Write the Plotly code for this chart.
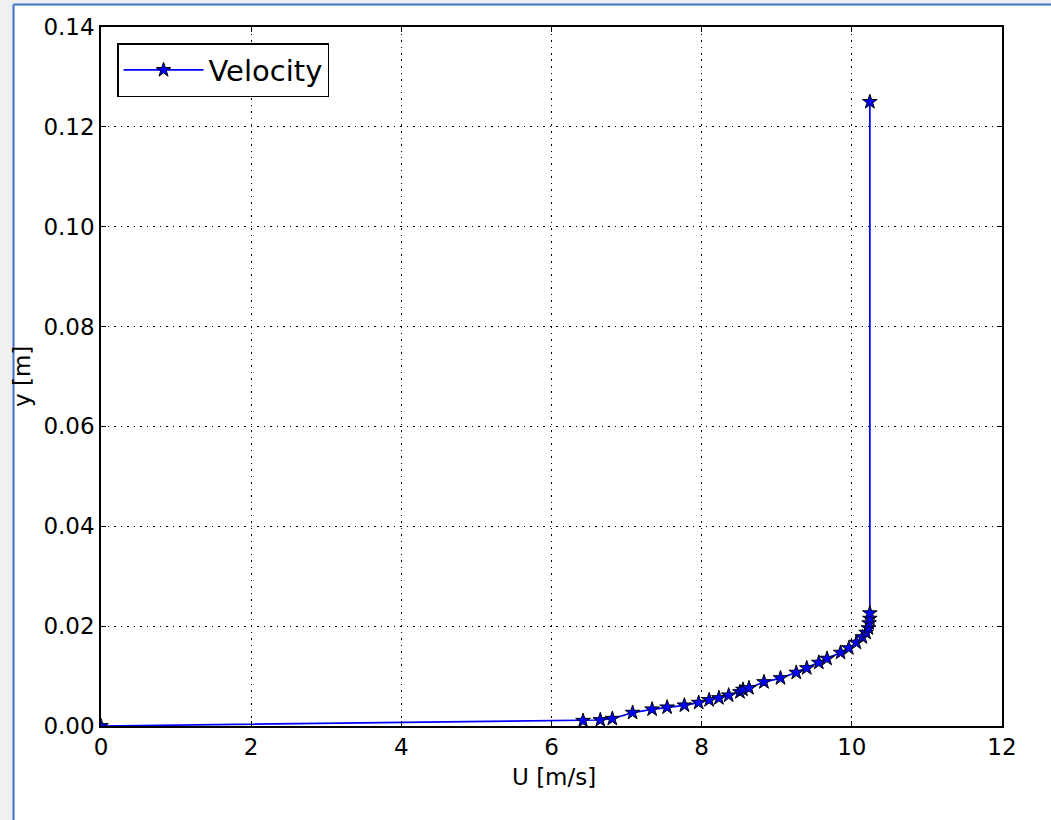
import plotly.graph_objects as go

U = [0.0, 6.42, 6.65, 6.81, 7.08, 7.34, 7.54, 7.77, 7.96, 8.10, 8.23, 8.36, 8.51,
     8.55, 8.63, 8.83, 9.05, 9.26, 9.40, 9.56, 9.67, 9.85, 9.96, 10.06, 10.14,
     10.19, 10.22, 10.23, 10.24, 10.24, 10.24]
Y = [0.0, 0.00106, 0.0012, 0.00146, 0.00267, 0.00334, 0.00374, 0.00414, 0.00467,
     0.0052, 0.0056, 0.00614, 0.0068, 0.0073, 0.0076, 0.0088, 0.0096, 0.0107,
     0.0116, 0.0127, 0.0135, 0.0147, 0.0156, 0.0167, 0.0178, 0.0187, 0.0196,
     0.0206, 0.0215, 0.0226, 0.125]

FONT = "DejaVu Sans"

fig = go.Figure()
fig.add_trace(go.Scatter(
    x=U, y=Y, mode="lines+markers", name="Velocity",
    line=dict(color="#0000ff", width=1.7),
    marker=dict(symbol="star", size=11, color="#0000ff", line=dict(color="black", width=1)),
))

axis_common = dict(
    showline=True, linecolor="black", linewidth=1.5, mirror="allticks",
    ticks="inside", ticklen=5, tickcolor="black", tickwidth=1,
    showgrid=True, gridcolor="black", griddash="1.5px,5px", gridwidth=1,
    zeroline=False, tickfont=dict(family=FONT, size=23, color="black"),
)

fig.update_xaxes(range=[0, 12], dtick=2, tick0=0, **axis_common)
fig.update_yaxes(range=[0, 0.14], dtick=0.02, tick0=0, tickformat=".2f", **axis_common)

fig.update_layout(
    width=1051, height=820,
    margin=dict(l=101, r=49, t=27, b=94),
    paper_bgcolor="white", plot_bgcolor="white",
    showlegend=True,
    legend=dict(x=0.0178, y=0.977, xanchor="left", yanchor="top",
                bordercolor="black", borderwidth=1.5, bgcolor="white",
                itemwidth=80,
                font=dict(family=FONT, size=29, color="black")),
    annotations=[
        dict(text="U [m/s]", xref="paper", yref="paper", x=(554 - 101) / 901, y=(726 - 777) / 699,
             xanchor="center", yanchor="middle", showarrow=False,
             font=dict(family=FONT, size=23, color="black")),
        dict(text="y [m]", xref="paper", yref="paper", x=(22 - 101) / 901, y=(726 - 377) / 699,
             xanchor="center", yanchor="middle", textangle=-90, showarrow=False,
             font=dict(family=FONT, size=23, color="black")),
    ],
    shapes=[
        dict(type="rect", xref="paper", yref="paper", x0=-0.2, x1=(13 - 101) / 901,
             y0=-0.2, y1=1.1, fillcolor="#f0f0f0", line=dict(width=0), layer="above"),
        dict(type="rect", xref="paper", yref="paper", x0=-0.2, x1=1.1,
             y0=(726 - 4) / 699, y1=1.1, fillcolor="#f0f0f0", line=dict(width=0), layer="above"),
        dict(type="line", xref="paper", yref="paper", x0=(13.5 - 101) / 901, x1=(13.5 - 101) / 901,
             y0=-0.2, y1=(726 - 4.5) / 699, line=dict(color="#3d72c4", width=2), layer="above"),
        dict(type="line", xref="paper", yref="paper", x0=(13.5 - 101) / 901, x1=1.1,
             y0=(726 - 4.5) / 699, y1=(726 - 4.5) / 699, line=dict(color="#3d72c4", width=2), layer="above"),
    ],
)

fig.write_html("out.html")
